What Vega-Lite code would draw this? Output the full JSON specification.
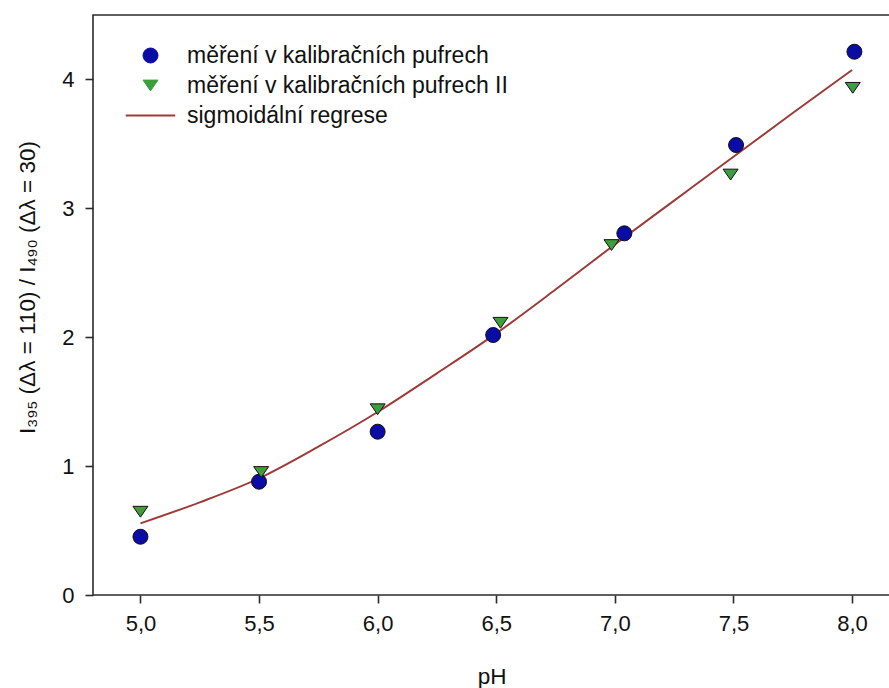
{
  "$schema": "https://vega.github.io/schema/vega-lite/v6.json",
  "width": 797,
  "height": 580,
  "autosize": {"type": "none"},
  "padding": {"left": 93, "top": 15, "right": 0, "bottom": 93},
  "background": "white",
  "config": {
    "font": "Liberation Sans",
    "view": {"stroke": "#2b2b2b", "strokeWidth": 1.6},
    "axis": {
      "grid": false,
      "domain": false,
      "ticks": true,
      "tickColor": "#2b2b2b",
      "tickWidth": 1.6,
      "tickSize": 8,
      "labelFont": "Liberation Sans",
      "labelFontSize": 22,
      "labelColor": "#111",
      "titleFont": "Liberation Sans",
      "titleFontSize": 22.5,
      "titleFontWeight": "normal",
      "titleColor": "#111"
    }
  },
  "datasets": {
    "points": [
      {"pH": 5.0, "ratio": 0.452, "series": "měření v kalibračních pufrech"},
      {"pH": 5.5, "ratio": 0.879, "series": "měření v kalibračních pufrech"},
      {"pH": 6.0, "ratio": 1.267, "series": "měření v kalibračních pufrech"},
      {"pH": 6.487, "ratio": 2.017, "series": "měření v kalibračních pufrech"},
      {"pH": 7.04, "ratio": 2.806, "series": "měření v kalibračních pufrech"},
      {"pH": 7.511, "ratio": 3.491, "series": "měření v kalibračních pufrech"},
      {"pH": 8.01, "ratio": 4.215, "series": "měření v kalibračních pufrech"},
      {"pH": 5.0, "ratio": 0.646, "series": "měření v kalibračních pufrech II"},
      {"pH": 5.509, "ratio": 0.954, "series": "měření v kalibračních pufrech II"},
      {"pH": 6.0, "ratio": 1.441, "series": "měření v kalibračních pufrech II"},
      {"pH": 6.518, "ratio": 2.112, "series": "měření v kalibračních pufrech II"},
      {"pH": 6.986, "ratio": 2.715, "series": "měření v kalibračních pufrech II"},
      {"pH": 7.488, "ratio": 3.262, "series": "měření v kalibračních pufrech II"},
      {"pH": 8.003, "ratio": 3.935, "series": "měření v kalibračních pufrech II"}
    ],
    "curve": [
      {"pH": 5.0, "ratio": 0.556, "series": "sigmoidální regrese"},
      {"pH": 5.25, "ratio": 0.719, "series": "sigmoidální regrese"},
      {"pH": 5.5, "ratio": 0.905, "series": "sigmoidální regrese"},
      {"pH": 5.75, "ratio": 1.151, "series": "sigmoidální regrese"},
      {"pH": 6.0, "ratio": 1.42, "series": "sigmoidální regrese"},
      {"pH": 6.25, "ratio": 1.72, "series": "sigmoidální regrese"},
      {"pH": 6.5, "ratio": 2.03, "series": "sigmoidální regrese"},
      {"pH": 6.75, "ratio": 2.37, "series": "sigmoidální regrese"},
      {"pH": 7.0, "ratio": 2.72, "series": "sigmoidální regrese"},
      {"pH": 7.25, "ratio": 3.06, "series": "sigmoidální regrese"},
      {"pH": 7.5, "ratio": 3.4, "series": "sigmoidální regrese"},
      {"pH": 7.75, "ratio": 3.74, "series": "sigmoidální regrese"},
      {"pH": 8.0, "ratio": 4.073, "series": "sigmoidální regrese"}
    ]
  },
  "encoding": {
    "x": {
      "field": "pH",
      "type": "quantitative",
      "scale": {"domain": [4.8, 8.16], "nice": false, "zero": false},
      "axis": {
        "title": "pH",
        "values": [5, 5.5, 6, 6.5, 7, 7.5, 8],
        "labelExpr": "replace(format(datum.value, '.1f'), '.', ',')",
        "labelPadding": 10,
        "titlePadding": 31
      }
    },
    "y": {
      "field": "ratio",
      "type": "quantitative",
      "scale": {"domain": [0, 4.5], "nice": false},
      "axis": {
        "title": "I₃₉₅ (Δλ = 110) / I₄₉₀ (Δλ = 30)",
        "values": [0, 1, 2, 3, 4],
        "format": "d",
        "labelPadding": 11,
        "titlePadding": 22,
        "titleY": 272
      }
    },
    "color": {
      "field": "series",
      "type": "nominal",
      "scale": {
        "domain": ["měření v kalibračních pufrech", "měření v kalibračních pufrech II", "sigmoidální regrese"],
        "range": ["#0b0ba6", "#3c9e3c", "#9e3b38"]
      },
      "legend": {
        "title": null,
        "orient": "none",
        "legendX": 46,
        "legendY": 29,
        "labelFont": "Liberation Sans",
        "labelFontSize": 23,
        "labelColor": "#111",
        "labelLimit": 500,
        "labelOffset": 25,
        "symbolSize": 225,
        "rowPadding": 6,
        "padding": 0,
        "symbolOpacity": 1,
        "encode": {
          "symbols": {
            "update": {
              "fill": {"signal": "datum.value === 'sigmoidální regrese' ? 'transparent' : scale('color', datum.value)"},
              "stroke": {"signal": "datum.value === 'sigmoidální regrese' ? '#9e3b38' : '#111'"},
              "strokeWidth": {"signal": "datum.value === 'sigmoidální regrese' ? 2 : 1"},
              "opacity": {"value": 1}
            }
          }
        }
      }
    }
  },
  "layer": [
    {
      "data": {"name": "curve"},
      "mark": {"type": "line", "strokeWidth": 2, "interpolate": "monotone"}
    },
    {
      "data": {"name": "points"},
      "mark": {"type": "point", "filled": true, "size": 225, "stroke": "#111", "strokeWidth": 1, "opacity": 1},
      "encoding": {
        "shape": {
          "field": "series",
          "type": "nominal",
          "scale": {
            "domain": ["měření v kalibračních pufrech", "měření v kalibračních pufrech II", "sigmoidální regrese"],
            "range": ["circle", "M-1,-0.72L1,-0.72L0,0.72Z", "M-3.3,0L3.3,0"]
          },
          "legend": {
            "title": null,
            "orient": "none",
            "legendX": 46,
            "legendY": 29,
            "labelFont": "Liberation Sans",
            "labelFontSize": 23,
            "labelColor": "#111",
            "labelLimit": 500,
            "labelOffset": 25,
            "symbolSize": 225,
            "rowPadding": 6,
            "padding": 0,
            "symbolOpacity": 1,
            "encode": {
              "symbols": {
                "update": {
                  "fill": {"signal": "datum.value === 'sigmoidální regrese' ? 'transparent' : scale('color', datum.value)"},
                  "stroke": {"signal": "datum.value === 'sigmoidální regrese' ? '#9e3b38' : '#111'"},
                  "strokeWidth": {"signal": "datum.value === 'sigmoidální regrese' ? 2 : 1"},
                  "opacity": {"value": 1}
                }
              }
            }
          }
        }
      }
    }
  ]
}
